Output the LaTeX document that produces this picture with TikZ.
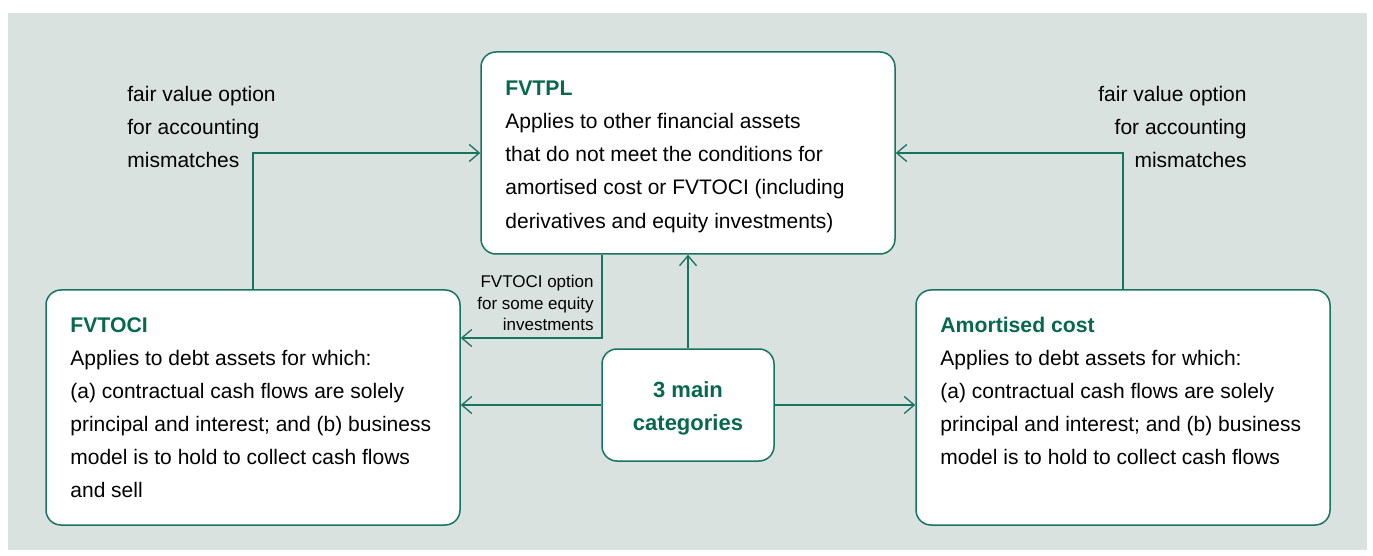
\documentclass[tikz,border=0pt]{standalone}
\usepackage{fontspec}
\setmainfont{Liberation Sans}
\usetikzlibrary{arrows.meta}
\definecolor{panel}{RGB}{217,226,223}
\definecolor{ifrsgreen}{RGB}{22,116,96}
\definecolor{headgreen}{RGB}{8,104,78}

\begin{document}
\begin{tikzpicture}[x=0.5pt,y=-0.5pt,
    box/.style={draw=ifrsgreen,fill=white,line width=0.75pt,rounded corners=7.5pt,inner sep=0pt},
    link/.style={draw=ifrsgreen,line width=0.65pt,-{Straight Barb[length=5pt,width=8.5pt]}},
    line/.style={anchor=base west,inner sep=0pt,font=\fontsize{10.5}{12}\selectfont},
    rline/.style={line,anchor=base east},
    small/.style={anchor=base east,inner sep=0pt,font=\fontsize{8.5}{10}\selectfont},
    head/.style={line,text=headgreen,font=\fontsize{10.6}{12}\selectfont\bfseries}]
  \useasboundingbox (0,0) rectangle (1373,556);
  \fill[panel] (8,13) rectangle (1367,550);

  % the four boxes
  \node[box,minimum width=207pt,minimum height=101pt] (fvtpl) at (688,153) {};
  \node[box,minimum width=207pt,minimum height=117.5pt] (fvtoci) at (253,407.5) {};
  \node[box,minimum width=207pt,minimum height=117.5pt] (amort) at (1123,407.5) {};
  \node[box,minimum width=86pt,minimum height=56pt] (main) at (688,405) {};

  % connectors
  \coordinate (optturn) at (602,338);
  \draw[link] (main.north) -- (fvtpl.south);
  \draw[link] (main.west) -- (main.west -| fvtoci.east);
  \draw[link] (main.east) -- (main.east -| amort.west);
  \draw[link] (fvtoci.north) |- (fvtpl.west);
  \draw[link] (amort.north) |- (fvtpl.east);
  \draw[link] (optturn |- fvtpl.south) -- (optturn) -- (optturn -| fvtoci.east);

  % labels on the connectors
  \foreach \t [count=\i] in {fair value option,for accounting,mismatches}
    \node[line] (fvoleft\i) at (127,{69+33*\i}) {\t};
  \foreach \t [count=\i] in {fair value option,for accounting,mismatches}
    \node[rline] (fvoright\i) at (1247,{69+33*\i}) {\t};
  \foreach \t [count=\i] in {FVTOCI option,for some equity,investments}
    \node[small] (optlabel\i) at (594,{267+21*\i}) {\t};

  % box texts
  \node[head] (fvtplhead) at (505,96) {FVTPL};
  \foreach \t [count=\i] in {Applies to other financial assets,that do not meet the conditions for,amortised cost or FVTOCI (including,derivatives and equity investments)}
    \node[line] (fvtplline\i) at (505,{96+33*\i}) {\t};
  \node[head] (fvtocihead) at (70,332) {FVTOCI};
  \foreach \t [count=\i] in {Applies to debt assets for which:,(a) contractual cash flows are solely,principal and interest; and (b) business,model is to hold to collect cash flows,and sell}
    \node[line] (fvtociline\i) at (70,{332+33*\i}) {\t};
  \node[head] (amorthead) at (940,332) {Amortised cost};
  \foreach \t [count=\i] in {Applies to debt assets for which:,(a) contractual cash flows are solely,principal and interest; and (b) business,model is to hold to collect cash flows}
    \node[line] (amortline\i) at (940,{332+33*\i}) {\t};
  \node[head,anchor=base,font=\fontsize{11}{12}\selectfont\bfseries] (mainhead1) at (688,397) {3 main};
  \node[head,anchor=base,font=\fontsize{11}{12}\selectfont\bfseries] (mainhead2) at (688,430) {categories};
\end{tikzpicture}
\end{document}
